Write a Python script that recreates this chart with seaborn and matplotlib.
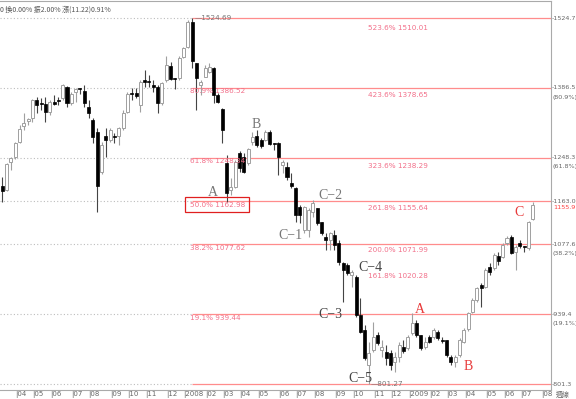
import numpy as np
import pandas as pd
import seaborn as sns
import matplotlib.pyplot as plt
from matplotlib.transforms import blended_transform_factory

# weekly candles
opens = [1192, 1185, 1240, 1250, 1280, 1311, 1321, 1327, 1362, 1357, 1355, 1339, 1359, 1362, 1366, 1388,
         1357, 1378, 1386, 1380, 1349, 1323, 1299, 1220, 1291, 1283, 1291, 1291, 1307, 1339, 1376, 1376,
         1353, 1402, 1400, 1392, 1388, 1357, 1402, 1430, 1406, 1406, 1448, 1467, 1517, 1436, 1392, 1408,
         1418, 1426, 1372, 1345, 1238, 1185, 1191, 1258, 1250, 1238, 1280, 1292, 1284, 1284, 1299, 1278,
         1278, 1234, 1230, 1199, 1189, 1151, 1106, 1106, 1141, 1149, 1122, 1092, 1086, 1096, 1080, 1041,
         1037, 1017, 1013, 938, 908, 839, 869, 898, 869, 865, 863, 845, 855, 874, 873, 902,
         922, 898, 874, 894, 894, 904, 889, 888, 855, 845, 859, 884, 910, 944, 967, 997,
         993, 1033, 1031, 1054, 1052, 1080, 1092, 1062, 1080, 1073, 1070, 1128]
highs = [1210, 1238, 1250, 1280, 1313, 1337, 1327, 1364, 1368, 1366, 1368, 1362, 1372, 1368, 1394, 1390,
         1378, 1386, 1387, 1392, 1362, 1327, 1307, 1280, 1307, 1307, 1297, 1309, 1343, 1378, 1386, 1386,
         1402, 1422, 1412, 1402, 1392, 1398, 1450, 1438, 1406, 1450, 1467, 1521, 1524.69, 1436, 1402, 1432,
         1436, 1428, 1376, 1347, 1254, 1208, 1244, 1262, 1258, 1268, 1299, 1303, 1288, 1303, 1303, 1278,
         1280, 1244, 1240, 1218, 1190, 1155, 1153, 1149, 1165, 1150, 1122, 1100, 1102, 1106, 1086, 1043,
         1041, 1027, 1017, 971, 918, 884, 924, 904, 888, 878, 869, 865, 884, 888, 898, 942,
         928, 898, 894, 898, 912, 908, 894, 889, 859, 859, 892, 912, 944, 971, 993, 1001,
         1031, 1041, 1060, 1062, 1080, 1094, 1096, 1076, 1086, 1074, 1124, 1161]
lows = [1161, 1183, 1224, 1246, 1278, 1303, 1313, 1319, 1337, 1343, 1319, 1333, 1353, 1353, 1362, 1349,
        1353, 1359, 1374, 1349, 1327, 1278, 1141, 1216, 1250, 1280, 1278, 1274, 1303, 1337, 1362, 1366,
        1339, 1388, 1388, 1378, 1337, 1353, 1398, 1402, 1384, 1402, 1446, 1465, 1426, 1343, 1372, 1408,
        1416, 1357, 1357, 1278, 1161, 1175, 1189, 1220, 1218, 1234, 1274, 1270, 1267, 1282, 1274, 1264,
        1214, 1218, 1204, 1189, 1122, 1120, 1100, 1092, 1131, 1116, 1096, 1066, 1066, 1066, 1037, 963,
        1017, 993, 934, 902, 849, 801.27, 865, 878, 855, 839, 829, 825, 845, 863, 869, 898,
        894, 869, 871, 882, 890, 888, 882, 855, 839, 835, 855, 882, 906, 942, 963, 954,
        991, 1017, 1027, 1037, 1050, 1076, 1058, 1027, 1070, 1062, 1066, 1126]
closes = [1183, 1236, 1248, 1278, 1305, 1317, 1325, 1362, 1353, 1355, 1339, 1359, 1355, 1360, 1392, 1357,
          1374, 1384, 1384, 1357, 1337, 1290, 1193, 1274, 1283, 1303, 1289, 1307, 1337, 1374, 1374, 1370,
          1398, 1398, 1398, 1388, 1357, 1396, 1432, 1404, 1404, 1446, 1465, 1517, 1440, 1406, 1398, 1426,
          1428, 1372, 1359, 1303, 1179, 1191, 1240, 1228, 1220, 1266, 1290, 1274, 1272, 1299, 1276, 1276,
          1250, 1240, 1210, 1193, 1135, 1135, 1151, 1145, 1159, 1120, 1100, 1086, 1100, 1076, 1043, 1027,
          1021, 1023, 938, 904, 853, 863, 894, 882, 874, 853, 839, 855, 878, 867, 894, 922,
          898, 873, 884, 884, 908, 892, 887, 859, 845, 855, 888, 908, 942, 967, 991, 991,
          1027, 1023, 1056, 1045, 1076, 1090, 1060, 1072, 1074, 1072, 1122, 1155.9]

# fibonacci levels and labels
fib_levels = [1524.69, 1386.52, 1248.34, 1162.98, 1077.62, 939.44, 801.27]
fib_pcts = ["", "80.9%", "61.8%", "50.0%", "38.2%", "19.1%", ""]
axis_labels = ["1524.7", "1386.5", "1248.3", "1163.0", "1077.6", "939.4", "801.3"]
ext_pcts = ["523.6%", "423.6%", "323.6%", "261.8%", "200.0%", "161.8%"]
ext_values = [1510.01, 1378.65, 1238.29, 1155.64, 1071.99, 1020.28]
last_close = 1155.9

# month ticks (week index of first week in month)
month_weeks = [3, 7, 11, 16, 20, 25, 29, 33, 38, 42, 47, 51, 55, 59, 64, 68, 72, 77, 81, 86,
               90, 94, 99, 103, 107, 112, 116, 120, 125]
month_labels = ["04", "05", "06", "07", "08", "09", "10", "11", "12", "2008", "02", "03", "04", "05",
                "06", "07", "08", "09", "10", "11", "12", "2009", "02", "03", "04", "05", "06", "07", "08"]

# wave labels
wave_text = ["A", "B", "C\u22121", "C\u22122", "C\u22123", "C\u22124", "C\u22125", "A", "B", "C"]
wave_week = [48.9, 58.8, 66.7, 76.0, 76.0, 85.3, 83.0, 96.9, 108.0, 119.8]
wave_price = [1179, 1315, 1094, 1173, 938, 1031, 813, 948, 835, 1141]
wave_color = ["#777777"] * 4 + ["#444444"] * 3 + ["#e83a3a"] * 3

df = pd.DataFrame({"open": opens, "high": highs, "low": lows, "close": closes})
df["week"] = np.arange(len(df))
df["up"] = df["close"] >= df["open"]

sns.set_theme(style="white")
plt.rcParams["font.family"] = ["DejaVu Sans", "Noto Sans CJK TC"]
narrow = ["Liberation Sans Narrow", "DejaVu Sans"]
cjk = ["Noto Sans CJK TC", "DejaVu Sans"]

fig = plt.figure(figsize=(5.76, 3.99), dpi=100)
ax = fig.add_axes([0, 9 / 399, 551 / 576, 1 - 10 / 399])
ax.set_xlim(-0.53, 127.2)
ax.set_ylim(789.5, 1558.3)

peak = int(np.argmax(df["high"]))
x0, x1 = ax.get_xlim()

# level lines: dotted before the top, solid red after
for lv in fib_levels:
    ax.hlines(lv, x0, peak, colors="#bdbdbd", linestyles=(0, (1, 2)), lw=0.8, zorder=1)
    ax.hlines(lv, peak, x1, colors="#ff8c8c", lw=0.9, zorder=1)

# candles
up = df[df["up"]]
dn = df[~df["up"]]
ax.vlines(up["week"], up["low"], up["high"], colors="#a0a0a0", lw=0.8, zorder=2)
ax.vlines(dn["week"], dn["low"], dn["high"], colors="#444444", lw=0.8, zorder=2)
body_up = np.maximum((up["close"] - up["open"]).abs(), 2)
body_dn = np.maximum((dn["close"] - dn["open"]).abs(), 2)
ax.bar(up["week"], body_up, bottom=np.minimum(up["open"], up["close"]), width=0.7,
       facecolor="white", edgecolor="#a0a0a0", lw=0.7, zorder=3)
ax.bar(dn["week"], body_dn, bottom=np.minimum(dn["open"], dn["close"]), width=0.7,
       facecolor="black", edgecolor="black", lw=0.5, zorder=3)

# level text on the left
lab_col = "#f2708a"
for pct, lv in zip(fib_pcts, fib_levels):
    if not pct:
        continue
    kw = {}
    if pct == "50.0%":
        kw["bbox"] = dict(boxstyle="square,pad=0.6", fc="none", ec="#e02020", lw=0.9)
    ax.text(peak - 0.6, lv - 1, f"{pct} {lv:.2f}", fontsize=5.2, color=lab_col, va="top", ha="left",
            family=narrow, **kw)
ax.text(peak + 0.5, fib_levels[0], f"\u2014{fib_levels[0]:.2f}", fontsize=5.2, color="#777777",
        va="center", ha="left", family=narrow)
low_i = int(np.argmin(df["low"]))
ax.text(low_i + 0.5, fib_levels[-1], f"\u2014{fib_levels[-1]:.2f}", fontsize=5.2, color="#777777",
        va="center", ha="left", family=narrow)

# extension labels
for pct, v in zip(ext_pcts, ext_values):
    ax.text(84.7, v, f"{pct} {v:.2f}", fontsize=5.2, color=lab_col, va="top", ha="left", family=narrow)

# wave letters
for t, w, p, c in zip(wave_text, wave_week, wave_price, wave_color):
    ax.text(w, p, t, fontsize=10, color=c, ha="center", va="center", family="Liberation Serif")

# right axis labels
tr = blended_transform_factory(ax.transAxes, ax.transData)
for lab, pct, lv in zip(axis_labels, fib_pcts, fib_levels):
    ax.text(1.002, lv, "-" + lab, transform=tr, fontsize=4.6, color="#666666", va="center", ha="left",
            family=narrow)
    if pct and pct != "50.0%":
        ax.text(1.002, lv - 18, f"({pct})", transform=tr, fontsize=4.6, color="#666666",
                va="center", ha="left", family=narrow)
ax.text(1.004, last_close - 5, f"{last_close:.1f}", transform=tr, fontsize=4.6, color="#ff4040",
        va="center", ha="left", family=narrow)

# x ticks
ax.set_xticks(month_weeks)
ax.set_xticklabels(["|" + m for m in month_labels], fontsize=5, color="#666666", ha="left",
                   family=narrow)
ax.tick_params(axis="x", length=0, pad=1)
ax.set_yticks([])
ax.text(1.008, -0.012, "週線", transform=ax.transAxes, fontsize=5, color="#666666",
        va="center", ha="left", family=cjk)

# header
ax.text(0.0, 0.988, "0 換0.00% 振2.00% 漲(11.22)0.91%", transform=ax.transAxes, fontsize=5,
        color="#555555", va="top", ha="left", family=cjk)

for s in ["top", "right", "bottom"]:
    ax.spines[s].set_color("#aaaaaa")
    ax.spines[s].set_linewidth(0.8)
ax.spines["left"].set_visible(False)

fig.savefig("out.png", dpi=100)
